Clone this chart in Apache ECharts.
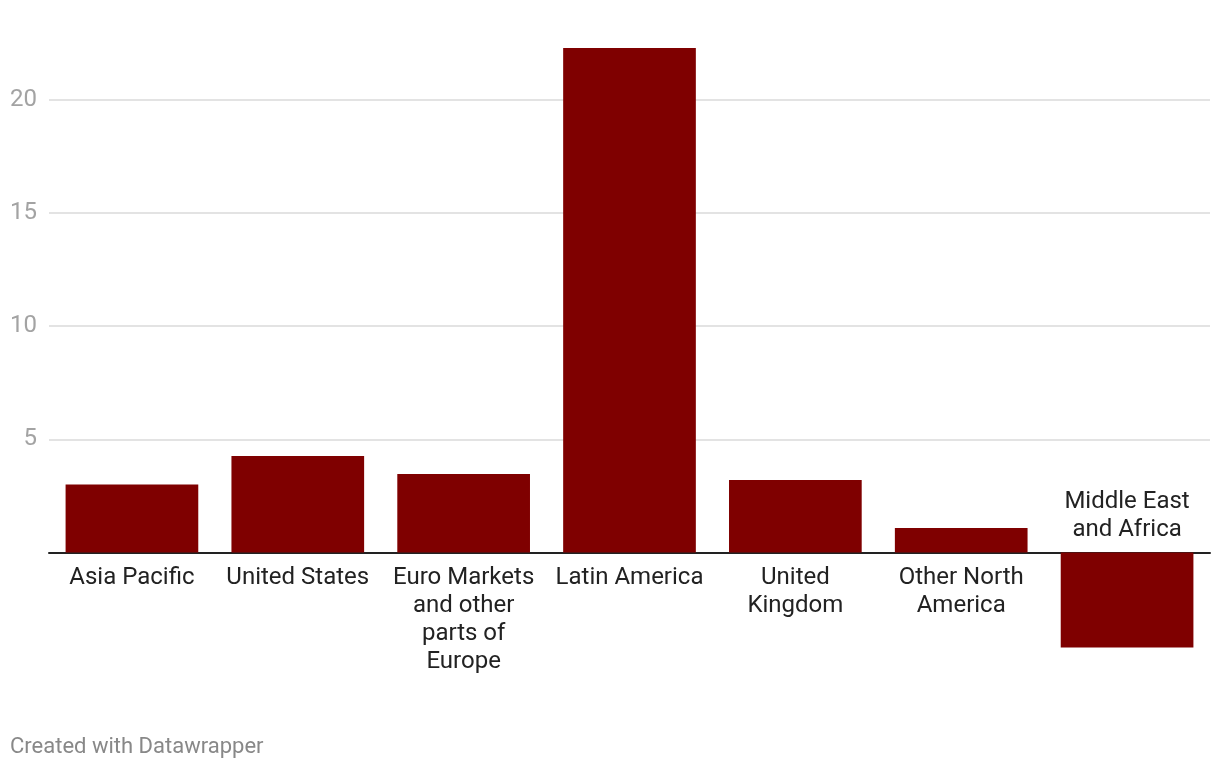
<!DOCTYPE html>
<html>
<head>
<meta charset="utf-8">
<script src="https://cdn.jsdelivr.net/npm/echarts@6/dist/echarts.min.js"></script>
<style>
html, body { margin: 0; padding: 0; background: #fff; }
#chart { width: 1220px; height: 770px; }
</style>
</head>
<body>
<div id="chart"></div>
<script>
// data
var regions = ['Asia Pacific', 'United States', 'Euro Markets and other parts of Europe',
	'Latin America', 'United Kingdom', 'Other North America', 'Middle East and Africa'];
var labelNames = ['Asia Pacific', 'United States', 'Euro Markets\nand other\nparts of\nEurope',
	'Latin America', 'United\nKingdom', 'Other North\nAmerica', 'Middle East\nand Africa'];
var values = [3.0, 4.26, 3.47, 22.27, 3.2, 1.08, -4.19];
var yTicks = [5, 10, 15, 20];

// category names sit on the zero line, on the side away from the bar
var nameMarks = [];
for (var i = 0; i < regions.length; i++) {
	var neg = values[i] < 0;
	nameMarks.push({
		value: [regions[i], 0],
		label: { position: neg ? 'top' : 'bottom', distance: neg ? 9 : 11, formatter: labelNames[i] }
	});
}

var myChart = echarts.init(document.getElementById('chart'));
myChart.setOption({
	backgroundColor: '#fff',
	animation: false,
	textStyle: { fontFamily: 'Roboto' },
	title: {
		text: 'Created with Datawrapper',
		left: 10, top: 736, padding: 0,
		textStyle: { fontFamily: 'Roboto', fontSize: 22, fontWeight: 'normal', color: '#888' }
	},
	grid: { left: 49, right: 10, top: -13.75, bottom: 104.25, containLabel: false, outerBoundsMode: 'none' },
	xAxis: {
		type: 'category',
		data: regions,
		axisLine: { onZero: true, lineStyle: { color: '#222', width: 2 } },
		axisTick: { show: false },
		axisLabel: { show: false }
	},
	yAxis: {
		type: 'value',
		min: -5, max: 25, interval: 5,
		axisLine: { show: false },
		axisTick: { show: false },
		axisLabel: {
			margin: 12, fontSize: 24, color: '#a3a3a3',
			formatter: function (v) { return yTicks.indexOf(v) >= 0 ? String(v) : ''; }
		},
		splitLine: {
			show: true,
			lineStyle: { width: 2, color: ['transparent', 'transparent', '#e3e3e3', '#e3e3e3', '#e3e3e3', '#e3e3e3', 'transparent'] }
		}
	},
	series: [
		{
			type: 'bar',
			data: values,
			barCategoryGap: '20%',
			itemStyle: { color: '#7f0000' }
		},
		{
			type: 'scatter',
			data: nameMarks,
			symbolSize: 0,
			silent: true,
			itemStyle: { opacity: 1 },
			label: {
				show: true,
				fontSize: 24, lineHeight: 28, color: '#222', align: 'center'
			}
		}
	]
});
</script>
</body>
</html>
